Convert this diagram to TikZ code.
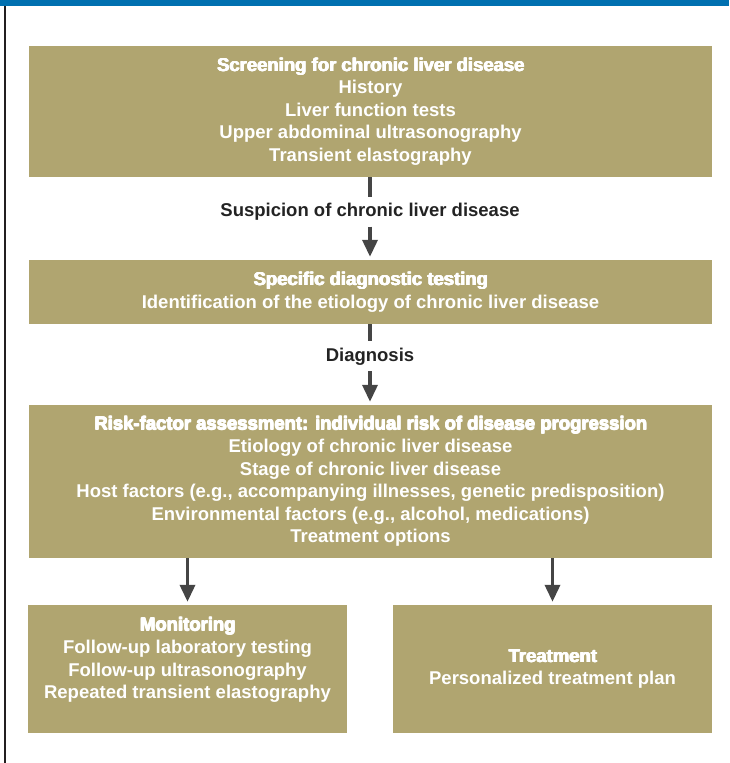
\documentclass[tikz,border=0pt]{standalone}
\usepackage{fontspec}
\setmainfont{Liberation Sans}
\usetikzlibrary{arrows.meta}
\definecolor{boxtan}{RGB}{176,165,112}
\definecolor{topblue}{RGB}{0,112,176}
\definecolor{arrowgray}{RGB}{69,69,69}
\definecolor{labelgray}{RGB}{35,35,35}
\definecolor{edgegray}{RGB}{35,31,32}
\newcommand\bodyfnt{\fontsize{18.5}{22.5}\selectfont\bfseries}
% heavier title: overprint the bold text with small offsets
\newcommand\ttl[1]{\makebox[0pt][l]{\hspace{0.8pt}#1}\makebox[0pt][l]{\hspace{0.4pt}\raisebox{0.35pt}{#1}}\makebox[0pt][l]{\raisebox{0.35pt}{#1}}\makebox[0pt][l]{\hspace{0.8pt}\raisebox{0.35pt}{#1}}#1\hspace{0.8pt}}
\tikzset{
  box/.style={fill=boxtan, draw=none, inner sep=0pt, text=white, align=center, font=\bodyfnt},
  boxtext/.style={inner sep=0pt, text=white, align=center, font=\bodyfnt},
  lbl/.style={font=\bodyfnt, text=labelgray, inner xsep=0pt, inner ysep=6pt, text height=13.5pt, text depth=4pt},
  conn/.style={draw=arrowgray, line width=3.5pt},
  arr/.style={conn, -{Triangle[width=15pt,length=17pt]}, shorten >=3pt}
}
\begin{document}
\begin{tikzpicture}[x=1pt,y=-1pt]
\useasboundingbox (0,0) rectangle (729,763);
\fill[topblue] (0,0) rectangle (729,6);
\fill[edgegray] (4,6) rectangle (6,763);

\node[box, minimum width=683pt, minimum height=131pt] (box1) at (370.5,111.5)
  {\ttl{Screening for chronic liver disease}\\History\\Liver function tests\\Upper abdominal ultrasonography\\Transient elastography};

\node[lbl] (susp) at (370,211.75) {Suspicion of chronic liver disease};

\node[box, minimum width=683pt, minimum height=64pt] (box2) at (370.5,292)
  {\ttl{Specific diagnostic testing}\\Identification of the etiology of chronic liver disease};

\node[lbl] (diag) at (370,356.25) {Diagnosis};

\node[box, minimum width=683pt, minimum height=153pt] (box3) at (370.5,481.5)
  {\ttl{Risk-factor assessment: individual risk of disease progression}\\Etiology of chronic liver disease\\Stage of chronic liver disease\\Host factors (e.g., accompanying illnesses, genetic predisposition)\\Environmental factors (e.g., alcohol, medications)\\Treatment options};

\node[box, minimum width=319pt, minimum height=128pt] (box4) at (187.5,669) {};
\node[boxtext] (box4text) at (187.5,660)
  {\ttl{Monitoring}\\Follow-up laboratory testing\\Follow-up ultrasonography\\Repeated transient elastography};

\node[box, minimum width=319pt, minimum height=128pt] (box5) at (552.5,669)
  {\ttl{Treatment}\\Personalized treatment plan};

\draw[conn] (box1.south -| susp.north) -- (susp.north);
\draw[arr] (susp.south) -- (susp.south |- box2.north);
\draw[conn] (box2.south -| diag.north) -- (diag.north);
\draw[arr] (diag.south) -- (diag.south |- box3.north);
\draw[arr] (box3.south -| box4.north) -- (box4.north);
\draw[arr] (box3.south -| box5.north) -- (box5.north);
\end{tikzpicture}
\end{document}
